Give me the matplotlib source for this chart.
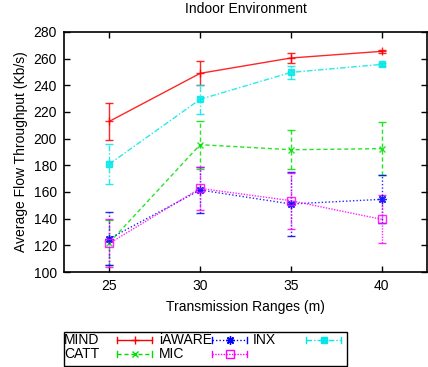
import matplotlib.pyplot as plt
from matplotlib.lines import Line2D
from matplotlib.patches import Rectangle

plt.rcParams['font.family'] = ['Liberation Sans', 'DejaVu Sans']

# ---------------------------------------------------------------------------
# Data
# ---------------------------------------------------------------------------

ranges = [25, 30, 35, 40]

mind_y     = [213, 249, 260.5, 265.5]
mind_err   = [14, 9, 4, 1]

inx_y      = [181, 229.5, 249.7, 255.7]
inx_err    = [15, 11, 5, 1]

catt_y     = [122, 195.5, 191.7, 192.5]
catt_err   = [17, 18, 14.5, 20]

iaware_y   = [125, 161.5, 151, 154.5]
iaware_err = [20, 17, 24, 18]

mic_y      = [121.5, 162.7, 153.5, 139.5]
mic_err    = [18, 16, 21, 18]

W, H = 428, 367

# ---------------------------------------------------------------------------
# Plot
# ---------------------------------------------------------------------------

fig = plt.figure(figsize=(W / 100, H / 100), dpi=100)
ax = fig.add_axes([64 / W, 1 - 272 / H, (427 - 64) / W, (272 - 32) / H])

# name, y, err, colour, linestyle, marker, size, fill
styles = [
    ("MIND",   mind_y,   mind_err,   "#ff0000", "-",                   "+",       6, "full"),
    ("CATT",   catt_y,   catt_err,   "#00e000", (0, (3, 2)),           "x",       5, "full"),
    ("iAWARE", iaware_y, iaware_err, "#0000ff", (0, (1, 1.5)),         (8, 2, 0), 6, "full"),
    ("MIC",    mic_y,    mic_err,    "#ff00ff", (0, (1, 1)),           "s",       6, "none"),
    ("INX",    inx_y,    inx_err,    "#00e8e8", (0, (4, 1.5, 1, 1.5)), "s",       5, "full"),
]

for name, y, err, color, ls, mk, ms, fill in styles:
    eb = ax.errorbar(ranges, y, yerr=err, color=color, linestyle=ls, lw=1.0,
                     marker=mk, markersize=ms, fillstyle=fill,
                     markeredgewidth=1.0, capsize=3, elinewidth=1.0,
                     capthick=1.0, alpha=0.85)
    eb[2][0].set_linestyle(ls)

ax.set_xlim(22.5, 42.5)
ax.set_ylim(100, 280)
ax.set_xticks(ranges)
ax.set_yticks(range(100, 281, 20))
ax.tick_params(direction="in", top=True, right=True, labelsize=10, length=4,
               width=1, pad=5)
for s in ax.spines.values():
    s.set_linewidth(1.2)

ax.set_xlabel("Transmission Ranges (m)", fontsize=10, labelpad=5)
ax.set_ylabel("Average Flow Throughput (Kb/s)", fontsize=10, labelpad=4)
ax.set_title("Indoor Environment", fontsize=10, pad=14)

# ---------------------------------------------------------------------------
# gnuplot-style key: label on the left, sample (with end caps) on the right
# ---------------------------------------------------------------------------

def fx(px):
    return px / W

def fy(py):
    return 1 - py / H

fig.patches.append(Rectangle((fx(64), fy(366)), fx(347) - fx(64), fy(332) - fy(366),
                             transform=fig.transFigure, fill=False,
                             edgecolor="black", lw=1.0))

slots = [(64, 340), (64, 354), (159, 340), (159, 354), (253, 340)]
samples = [117, 117, 212, 212, 306]
for (name, y, err, color, ls, mk, ms, fill), (tx, ty), x0 in zip(styles, slots, samples):
    fig.text(fx(tx), fy(ty), name, fontsize=10, ha="left", va="center",
             family=["Liberation Sans Narrow", "Liberation Sans"])
    x1 = x0 + 35
    fig.add_artist(Line2D([fx(x0), fx(x1)], [fy(ty), fy(ty)], color=color,
                          linestyle=ls, lw=1.0, transform=fig.transFigure))
    for xc in (x0, x1):
        fig.add_artist(Line2D([fx(xc), fx(xc)], [fy(ty - 3), fy(ty + 3)],
                              color=color, lw=1.0, transform=fig.transFigure))
    fig.add_artist(Line2D([fx((x0 + x1) / 2)], [fy(ty)], color=color,
                          marker=mk, markersize=ms, fillstyle=fill,
                          markeredgewidth=1.0, linestyle="none",
                          transform=fig.transFigure))

fig.savefig("out.png", dpi=100)
